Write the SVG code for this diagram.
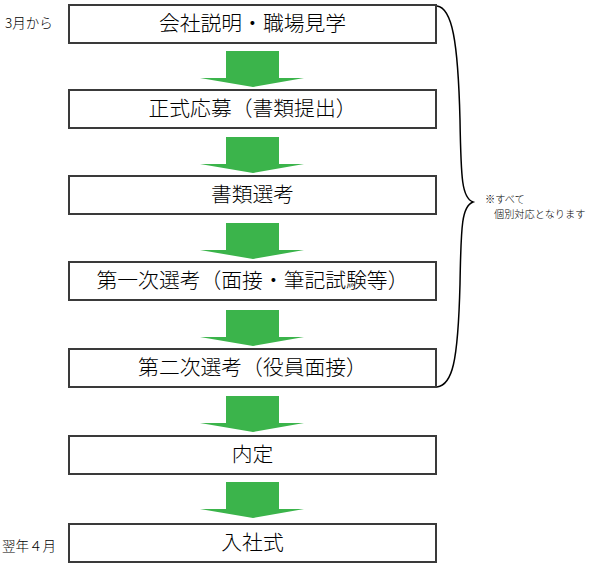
<svg xmlns="http://www.w3.org/2000/svg" width="591" height="565" viewBox="0 0 591 565">
<defs>
<style>
.box{fill:#fff;stroke:#3a3a3a;stroke-width:2}
.lbl{font-family:"Noto Sans CJK JP","Noto Sans",sans-serif;font-size:20.8px;font-weight:300;fill:#000;text-anchor:middle}
.side{font-family:"Noto Sans CJK JP","Noto Sans",sans-serif;font-size:13.5px;font-weight:300;fill:#000}
.note{font-family:"Noto Sans CJK JP","Noto Sans",sans-serif;font-size:10.2px;font-weight:300;fill:#000}
.arr{fill:#3BB44B}
</style>
<path id="ar" class="arr" d="M226,0 H279 V27 H304 L253,36 L200,27 H226 Z"/>
</defs>
<rect width="591" height="565" fill="#fff"/>
<g id="connectors">
<use href="#ar" y="51"/>
<use href="#ar" y="137"/>
<use href="#ar" y="223"/>
<use href="#ar" y="310"/>
<use href="#ar" y="396"/>
<use href="#ar" y="482"/>
<path d="M437,6 C452,8 458,40 460,120 C461,180 462,198 473,202 C462,206 461,224 460,284 C458,364 452,385 437,387" fill="none" stroke="#000" stroke-width="1.5"/>
</g>
<g id="n1"><rect class="box" x="69" y="5" width="367" height="38"/><text class="lbl" x="252.5" y="31">会社説明・職場見学</text></g>
<g id="n2"><rect class="box" x="69" y="90" width="367" height="38"/><text class="lbl" x="252.5" y="116">正式応募（書類提出）</text></g>
<g id="n3"><rect class="box" x="69" y="176" width="367" height="38"/><text class="lbl" x="252.5" y="202">書類選考</text></g>
<g id="n4"><rect class="box" x="69" y="262" width="367" height="38"/><text class="lbl" x="252.5" y="288">第一次選考（面接・筆記試験等）</text></g>
<g id="n5"><rect class="box" x="69" y="349" width="367" height="38"/><text class="lbl" x="252.5" y="375">第二次選考（役員面接）</text></g>
<g id="n6"><rect class="box" x="69" y="436" width="367" height="38"/><text class="lbl" x="252.5" y="462">内定</text></g>
<g id="n7"><rect class="box" x="69" y="524" width="367" height="38"/><text class="lbl" x="252.5" y="550">入社式</text></g>
<g id="labels">
<text class="side" x="5" y="28">3月から</text>
<text class="side" x="2" y="551">翌年４月</text>
<text class="note" x="485" y="203">※すべて</text>
<text class="note" x="494" y="218">個別対応となります</text>
</g>
</svg>
